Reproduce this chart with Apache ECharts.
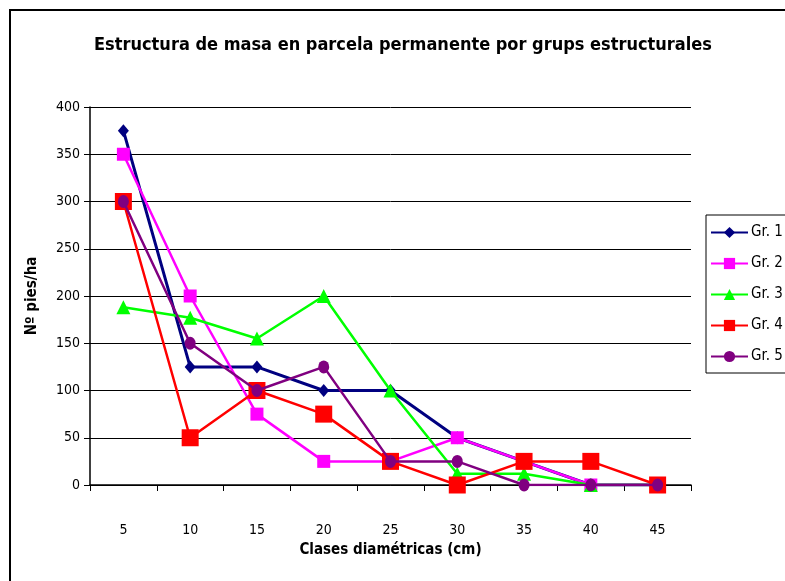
<!DOCTYPE html>
<html>
<head>
<meta charset="utf-8">
<script src="https://cdn.jsdelivr.net/npm/echarts@6/dist/echarts.min.js"></script>
<style>
html,body{margin:0;padding:0;background:#fff;}
#chart{width:785px;height:581px;}
</style>
</head>
<body>
<div id="chart"></div>
<script>
// Diameter classes (cm) and stems per hectare for each structural group
const categories = ['5', '10', '15', '20', '25', '30', '35', '40', '45'];
const seriesNames = ['Gr. 1', 'Gr. 2', 'Gr. 3', 'Gr. 4', 'Gr. 5'];
const gr1 = [375, 125, 125, 100, 100, 50, 25, 0, 0];
const gr2 = [350, 200, 75, 25, 25, 50, 25, 0, 0];
const gr3 = [188, 177, 155, 200, 100, 12, 12, 0, 0];
const gr4 = [300, 50, 100, 75, 25, 0, 25, 25, 0];
const gr5 = [300, 150, 100, 125, 25, 25, 0, 0, 0];
const yTicks = [0, 50, 100, 150, 200, 250, 300, 350, 400];

const FONT = '"DejaVu Sans Condensed", "Liberation Sans", Arial, sans-serif';

const styles = [
  { color: '#000080', symbol: 'diamond', size: [11, 13], width: 3 },
  { color: '#FF00FF', symbol: 'rect', size: 13, width: 2.5 },
  { color: '#00FF00', symbol: 'triangle', size: 14, width: 2.5 },
  { color: '#FF0000', symbol: 'rect', size: 17, width: 2.5 },
  { color: '#800080', symbol: 'circle', size: [11, 13], width: 2.5 }
];
const values = [gr1, gr2, gr3, gr4, gr5];

const series = seriesNames.map((name, i) => ({
  name: name,
  type: 'line',
  data: values[i],
  symbol: styles[i].symbol,
  symbolSize: styles[i].size,
  showAllSymbol: true,
  lineStyle: { color: styles[i].color, width: styles[i].width },
  itemStyle: { color: styles[i].color },
  emphasis: { disabled: true },
  animation: false,
  z: 2 + i
}));

const chart = echarts.init(document.getElementById('chart'), null, { renderer: 'canvas' });
chart.setOption({
  backgroundColor: '#fff',
  animation: false,
  title: {
    text: 'Estructura de masa en parcela permanente por grups estructurales',
    left: 398,
    textAlign: 'center',
    top: 31,
    textStyle: { fontFamily: FONT, fontSize: 18, fontWeight: 'bold', color: '#000' }
  },
  graphic: [{
    type: 'rect',
    shape: { x: 10, y: 10, width: 820, height: 620 },
    style: { fill: 'none', stroke: '#000', lineWidth: 2 },
    silent: true
  }],
  legend: {
    orient: 'vertical',
    left: 706,
    top: 215,
    data: seriesNames,
    itemWidth: 37,
    itemHeight: 14,
    itemGap: 16,
    padding: [10, 40, 9, 4],
    borderColor: '#000',
    borderWidth: 1,
    backgroundColor: '#fff',
    textStyle: { fontFamily: FONT, fontSize: 15, color: '#000', padding: [0, 0, 0, -2] }
  },
  grid: { left: 90, top: 107, width: 601, height: 378, containLabel: false },
  xAxis: {
    type: 'category',
    data: categories,
    boundaryGap: true,
    name: 'Clases diamétricas (cm)',
    nameLocation: 'middle',
    nameGap: 58,
    nameTextStyle: { fontFamily: FONT, fontSize: 15, fontWeight: 'bold', color: '#000' },
    axisLine: { lineStyle: { color: '#000', width: 1.5 } },
    axisTick: { show: true, length: 6, lineStyle: { color: '#000' } },
    axisLabel: { fontFamily: FONT, fontSize: 14, color: '#000', margin: 38 },
    splitLine: { show: false }
  },
  yAxis: {
    type: 'value',
    min: yTicks[0],
    max: yTicks[yTicks.length - 1],
    interval: yTicks[1] - yTicks[0],
    name: 'Nº pies/ha',
    nameLocation: 'middle',
    nameGap: 50,
    nameRotate: 90,
    nameTextStyle: { fontFamily: FONT, fontSize: 15, fontWeight: 'bold', color: '#000' },
    axisLine: { show: true, lineStyle: { color: '#000', width: 1.5 } },
    axisTick: { show: true, length: 6, lineStyle: { color: '#000' } },
    axisLabel: { fontFamily: FONT, fontSize: 14, color: '#000', margin: 10 },
    splitLine: { show: true, lineStyle: { color: '#000', width: 1 } }
  },
  series: series
});
</script>
</body>
</html>
